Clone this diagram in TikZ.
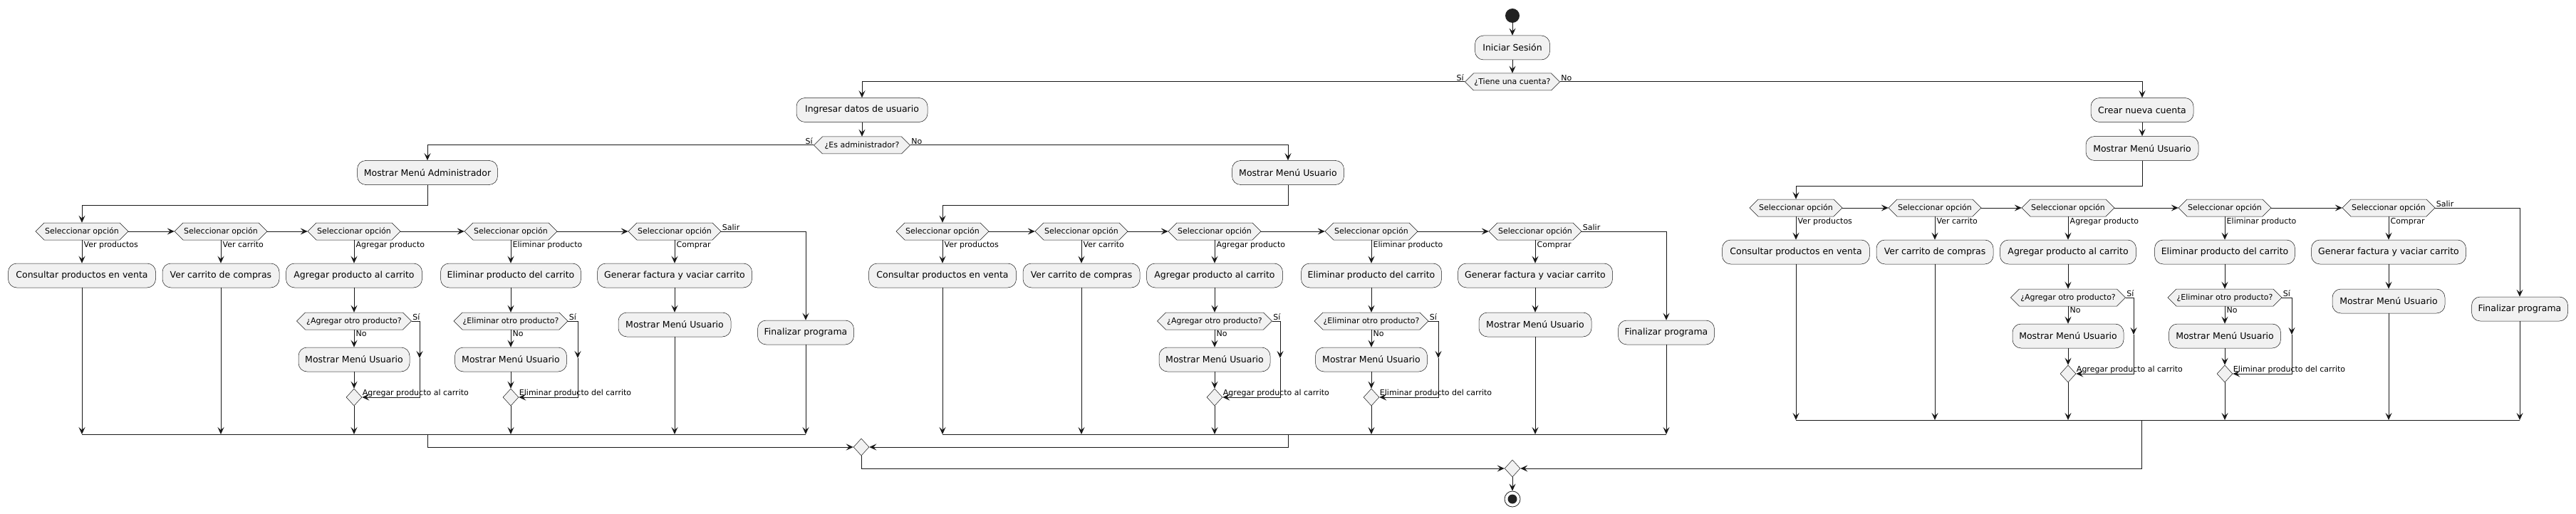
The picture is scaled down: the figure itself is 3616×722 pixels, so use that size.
\documentclass[tikz,border=0pt]{standalone}
\usepackage{fontspec}
\setmainfont{DejaVu Sans}
\usetikzlibrary{arrows.meta,shapes.geometric}
\definecolor{cfill}{HTML}{F1F1F1}
\definecolor{cline}{HTML}{181818}
\definecolor{cdark}{HTML}{222222}
\tikzset{
  box/.style={draw=cline, line width=0.5pt, fill=cfill, rounded corners=12pt, minimum height=34pt, inner sep=0pt, font=\fontsize{12.5}{15}\selectfont},
  hexshape/.style={draw=cline, line width=0.5pt, fill=cfill},
  hextext/.style={minimum height=24pt, inner sep=0pt, font=\fontsize{11}{13}\selectfont},
  lbl/.style={inner sep=1.5pt, font=\fontsize{11}{13}\selectfont},
  flow/.style={draw=cline, line width=1pt, -{Stealth[length=10pt,width=9pt,inset=4pt]}},
  lineonly/.style={draw=cline, line width=1pt},
  merge/.style={diamond, draw=cline, line width=0.5pt, fill=cfill, minimum width=22pt, minimum height=24pt, inner sep=0pt, aspect=1},
}
% #1 name, #2 x, #3 y, #4 half width, #5 text
\newcommand{\hexnode}[5]{%
  \filldraw[hexshape] (#2-#4,#3) -- (#2-#4+12,#3-12) -- (#2+#4-12,#3-12) -- (#2+#4,#3) -- (#2+#4-12,#3+12) -- (#2-#4+12,#3+12) -- cycle;
  \node[hextext, minimum width=2*#4] (#1) at (#2,#3) {#5};
}
% #1 prefix, #2 menu node, #3 turn y, #4 merge y
\newcommand{\menuflow}[4]{%
  \hexnode{#1s1}{115}{325}{65}{Seleccionar opción}
  \hexnode{#1s2}{310}{325}{65}{Seleccionar opción}
  \hexnode{#1s3}{497}{325}{65}{Seleccionar opción}
  \hexnode{#1s4}{717}{325}{65}{Seleccionar opción}
  \hexnode{#1s5}{947}{325}{65}{Seleccionar opción}
  \node[box, minimum width=207] (#1a1) at (115,387) {Consultar productos en venta};
  \node[box, minimum width=164] (#1a2) at (310,387) {Ver carrito de compras};
  \node[box, minimum width=191] (#1a3) at (497,387) {Agregar producto al carrito};
  \node[box, minimum width=197] (#1a4) at (717,387) {Eliminar producto del carrito};
  \node[box, minimum width=217] (#1a5) at (947,387) {Generar factura y vaciar carrito};
  \hexnode{#1q3}{497}{451}{80.5}{¿Agregar otro producto?}
  \hexnode{#1q4}{717}{451}{80}{¿Eliminar otro producto?}
  \node[box, minimum width=156] (#1u3) at (497,505) {Mostrar Menú Usuario};
  \node[box, minimum width=157] (#1u4) at (717,505) {Mostrar Menú Usuario};
  \node[box, minimum width=158] (#1u5) at (947,456) {Mostrar Menú Usuario};
  \node[box, minimum width=135] (#1f) at (1131,467) {Finalizar programa};
  \node[merge] (#1m3) at (497,558) {};
  \node[merge] (#1m4) at (717,558) {};
  \coordinate (#1t) at (115,#3);
  \coordinate (#1k3) at (589,503);
  \coordinate (#1k4) at (811,503);
  \coordinate (#1j1) at (115,#4);
  \coordinate (#1j2) at (310,#4);
  \coordinate (#1j3) at (497,#4);
  \coordinate (#1j4) at (717,#4);
  \coordinate (#1j5) at (947,#4);
  \coordinate (#1j6) at (1131,#4);
  \coordinate (#1jm) at (600,#4);
  \draw[flow] (#2.south) |- (#1t) -- (#1s1.north);
  \draw[flow] (#1s1.east) -- (#1s2.west);
  \draw[flow] (#1s2.east) -- (#1s3.west);
  \draw[flow] (#1s3.east) -- (#1s4.west);
  \draw[flow] (#1s4.east) -- (#1s5.west);
  \draw[flow] (#1s5.east) -| (#1f.north);
  \draw[flow] (#1s1.south) -- (#1a1.north);
  \draw[flow] (#1s2.south) -- (#1a2.north);
  \draw[flow] (#1s3.south) -- (#1a3.north);
  \draw[flow] (#1s4.south) -- (#1a4.north);
  \draw[flow] (#1s5.south) -- (#1a5.north);
  \draw[flow] (#1a3.south) -- (#1q3.north);
  \draw[flow] (#1q3.south) -- (#1u3.north);
  \draw[flow] (#1u3.south) -- (#1m3.north);
  \draw[flow] (#1q3.east) -| (#1k3);
  \draw[flow] (#1k3) |- (#1m3.east);
  \draw[flow] (#1a4.south) -- (#1q4.north);
  \draw[flow] (#1q4.south) -- (#1u4.north);
  \draw[flow] (#1u4.south) -- (#1m4.north);
  \draw[flow] (#1q4.east) -| (#1k4);
  \draw[flow] (#1k4) |- (#1m4.east);
  \draw[flow] (#1a5.south) -- (#1u5.north);
  \draw[flow] (#1a1.south) -- (#1j1);
  \draw[flow] (#1a2.south) -- (#1j2);
  \draw[flow] (#1m3.south) -- (#1j3);
  \draw[flow] (#1m4.south) -- (#1j4);
  \draw[flow] (#1u5.south) -- (#1j5);
  \draw[flow] (#1f.south) -- (#1j6);
  \draw[lineonly] (#1j1) -- (#1j6);
  \node[lbl, anchor=north west] (#1l1) at ([xshift=1pt]#1s1.south) {Ver productos};
  \node[lbl, anchor=north west] (#1l2) at ([xshift=1pt]#1s2.south) {Ver carrito};
  \node[lbl, anchor=north west] (#1l3) at ([xshift=1pt]#1s3.south) {Agregar producto};
  \node[lbl, anchor=north west] (#1l4) at ([xshift=1pt]#1s4.south) {Eliminar producto};
  \node[lbl, anchor=north west] (#1l5) at ([xshift=1pt]#1s5.south) {Comprar};
  \node[lbl, anchor=south west] (#1l6) at (#1s5.east) {Salir};
  \node[lbl, anchor=south west] (#1y3) at (#1q3.east) {Sí};
  \node[lbl, anchor=south west] (#1y4) at (#1q4.east) {Sí};
  \node[lbl, anchor=north west] (#1n3) at ([xshift=1pt]#1q3.south) {No};
  \node[lbl, anchor=north west] (#1n4) at ([xshift=1pt]#1q4.south) {No};
  \node[lbl, anchor=south west, inner sep=0.5pt] (#1r3) at (#1m3.east) {Agregar producto al carrito};
  \node[lbl, anchor=south west, inner sep=0.5pt] (#1r4) at (#1m4.east) {Eliminar producto del carrito};
}
\begin{document}
\begin{tikzpicture}[x=1pt,y=-1pt]
\fill[white] (0,0) rectangle (3616,722);
\useasboundingbox (0,0) rectangle (3616,722);
% top
\node[circle, fill=cdark, minimum size=20pt, inner sep=0pt] (start) at (2123,22) {};
\node[box, minimum width=105] (ini) at (2123,67) {Iniciar Sesión};
\hexnode{tiene}{2123}{115}{66.5}{¿Tiene una cuenta?}
\node[box, minimum width=184] (ing) at (1210,154.5) {Ingresar datos de usuario};
\hexnode{esadm}{1210}{204}{67.5}{¿Es administrador?}
\node[box, minimum width=197] (admin) at (600,242.5) {Mostrar Menú Administrador};
\node[box, minimum width=157] (mmu) at (1808,242.5) {Mostrar Menú Usuario};
\node[box, minimum width=144] (crear) at (3007,154.5) {Crear nueva cuenta};
\node[box, minimum width=158] (rmmu) at (3007,208.5) {Mostrar Menú Usuario};
\draw[flow] (start) -- (ini);
\draw[flow] (ini) -- (tiene);
\draw[flow] (tiene.west) -| (ing.north);
\draw[flow] (tiene.east) -| (crear.north);
\draw[flow] (ing) -- (esadm);
\draw[flow] (esadm.west) -| (admin.north);
\draw[flow] (esadm.east) -| (mmu.north);
\draw[flow] (crear) -- (rmmu);
\node[lbl, anchor=south east] (lsi1) at (tiene.west) {Sí};
\node[lbl, anchor=south west] (lno1) at (tiene.east) {No};
\node[lbl, anchor=south east] (lsi2) at (esadm.west) {Sí};
\node[lbl, anchor=south west] (lno2) at (esadm.east) {No};
% sections
\menuflow{L}{admin}{288}{610}
\begin{scope}[shift={(1208,0)}]
\menuflow{M}{mmu}{288}{610}
\end{scope}
\begin{scope}[shift={(2406,-33)}]
\menuflow{R}{rmmu}{294}{623}
\end{scope}
% merges
\node[merge] (bm) at (1209,628) {};
\node[merge] (fm) at (2123,658) {};
\draw[flow] (Ljm) |- (bm.west);
\draw[flow] (Mjm) |- (bm.east);
\draw[flow] (bm.south) |- (fm.west);
\draw[flow] (Rjm) |- (fm.east);
\node[circle, draw=cdark, line width=0.8pt, fill=white, minimum size=22pt, inner sep=0pt] (stop) at (2123,701) {};
\node[circle, fill=cdark, minimum size=13pt, inner sep=0pt] (stopdot) at (2123,701) {};
\draw[flow] (fm.south) -- (stop);
\end{tikzpicture}
\end{document}
